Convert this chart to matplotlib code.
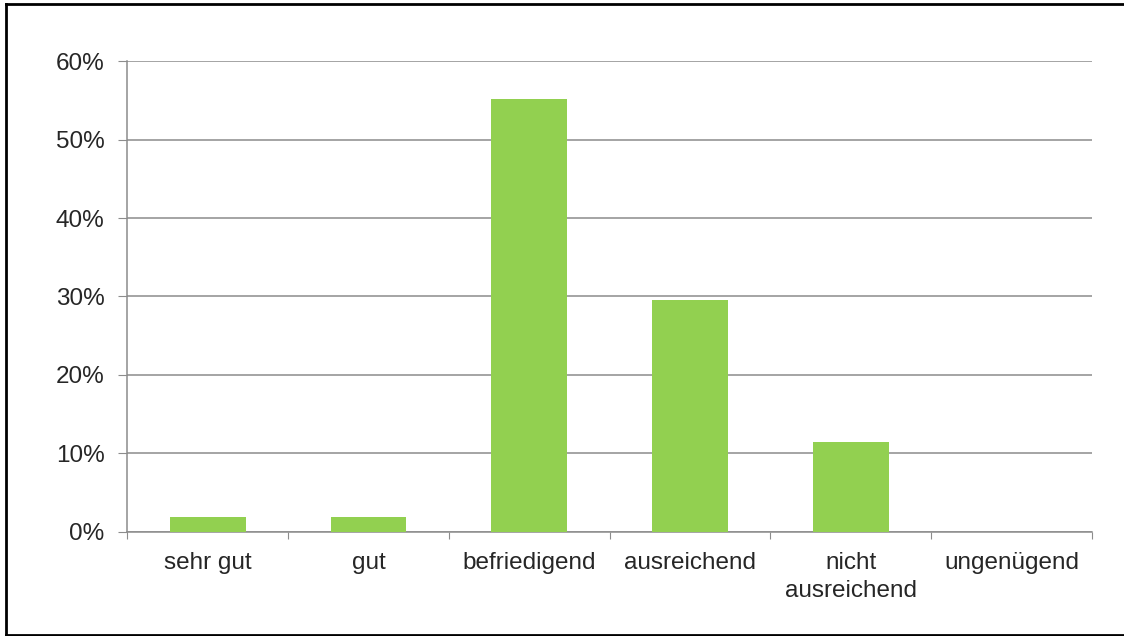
import matplotlib.pyplot as plt
from matplotlib.lines import Line2D
from matplotlib.ticker import FuncFormatter

categories = ["sehr gut", "gut", "befriedigend", "ausreichend", "nicht\nausreichend", "ungenügend"]
shares = [1.85, 1.85, 55.2, 29.5, 11.4, 0.0]
y_ticks = [0, 10, 20, 30, 40, 50, 60]

plt.rcParams["font.family"] = ["Liberation Sans", "DejaVu Sans"]

fig = plt.figure(figsize=(11.24, 6.36), dpi=100)
ax = fig.add_axes([0.1133, 0.1642, 0.9715 - 0.1133, 0.9036 - 0.1642])

x = list(range(len(categories)))
ax.bar(x, shares, width=0.47, color="#92D050", zorder=3)

ax.set_xlim(-0.5, len(categories) - 0.5)
ax.set_ylim(0, 60)
ax.set_yticks(y_ticks)
ax.yaxis.set_major_formatter(FuncFormatter(lambda v, p: f"{v:.0f}%"))
ax.yaxis.grid(True, color="#8c8c8c", linewidth=1.1, zorder=0)
ax.tick_params(axis="y", length=6.5, width=0.8, color="#8c8c8c", pad=10,
               labelsize=17.5, labelcolor="#262626")

ax.set_xticks(x)
ax.set_xticklabels(categories, linespacing=1.3)
ax.set_xticks([i - 0.5 for i in range(len(categories) + 1)], minor=True)
ax.tick_params(axis="x", which="major", length=0, pad=15, labelsize=17.5, labelcolor="#262626")
ax.tick_params(axis="x", which="minor", length=5, width=0.8, color="#8c8c8c")

for s in ["top", "right"]:
    ax.spines[s].set_visible(False)
for s in ["left", "bottom"]:
    ax.spines[s].set_color("#8c8c8c")
    ax.spines[s].set_linewidth(1.1)

# outer border (right side falls outside the image)
bx0, by0, by1 = 6 / 1124, 1 - 635 / 636, 1 - 4 / 636
for xs, ys in [([bx0, 1.01], [by1, by1]), ([bx0, 1.01], [by0, by0]), ([bx0, bx0], [by0, by1])]:
    fig.add_artist(Line2D(xs, ys, color="black", linewidth=2, transform=fig.transFigure))

fig.savefig("out.png", dpi=100)
